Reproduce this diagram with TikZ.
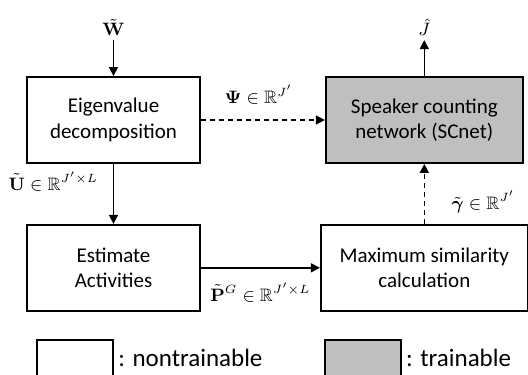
\documentclass[tikz,border=0pt]{standalone}
\usepackage{amsmath,amssymb}
\usepackage[no-math]{fontspec}
\setmainfont{Carlito}
\usetikzlibrary{positioning,arrows.meta}
\definecolor{lineC}{HTML}{000000}
\definecolor{trainC}{HTML}{BFBFBF}

\begin{document}
\begin{tikzpicture}[
  >={Triangle[length=4.5pt,width=4.5pt]},
  every node/.style={font=\fontsize{10.5}{12.6}\selectfont, text=lineC},
  procbox/.style={draw=lineC, line width=0.9pt, fill=#1,
                  minimum width=86.5pt, minimum height=43pt,
                  align=center, inner sep=2pt},
  procbox/.default=white,
  keybox/.style={draw=lineC, line width=0.9pt, fill=#1,
                 minimum width=38pt, minimum height=18pt, inner sep=0pt},
  keytext/.style={font=\fontsize{12.5}{15}\selectfont, inner sep=2pt},
  flow/.style={->, line width=0.75pt, lineC},
  dflow/.style={->, line width=0.75pt, lineC, dash pattern=on 2.5pt off 2pt},
  ioval/.style={inner sep=2pt, font=\fontsize{9.5}{11}\selectfont},
  edgelbl/.style={font=\fontsize{9}{11}\selectfont},
]

% ── Frame ──
\useasboundingbox (0,0) rectangle (264pt,-187pt);

% ── Processing blocks ──
\node[procbox] (eig) at (56.75pt,-60pt) {Eigenvalue\\decomposition};
\node[procbox=trainC, minimum width=98.5pt, right=62pt of eig] (scnet)
  {Speaker counting\\network (SCnet)};
\node[procbox, below=30pt of eig] (est) {Estimate\\Activities};
\node[procbox, minimum width=103.5pt, below=30pt of scnet] (msim)
  {Maximum similarity\\calculation};

% ── Input / output ──
\node[ioval, above=18pt of eig] (win) {$\tilde{\mathbf{W}}$};
\node[ioval, above=18pt of scnet] (jout) {$\hat{J}$};

% ── Connectors ──
\draw[flow] (win) -- (eig);
\draw[flow] (scnet) -- (jout);
\draw[dflow] (eig.east) -- node[edgelbl, above=4pt, xshift=-2pt]
  {$\mathbf{\Psi}\in\mathbb{R}^{J'}$} (scnet.west);
\draw[flow] (eig) -- node[edgelbl, pos=0.3, left=4pt]
  {$\tilde{\mathbf{U}}\in\mathbb{R}^{J'\times L}$} (est);
\draw[flow] (est.east) -- node[edgelbl, below=4pt]
  {$\tilde{\mathbf{P}}^{G}\in\mathbb{R}^{J'\times L}$} (msim.west);
\draw[dflow] (msim.north) -- node[edgelbl, right=10pt, yshift=-4pt]
  {$\tilde{\boldsymbol{\gamma}}\in\mathbb{R}^{J'}$} (scnet.south);

% ── Legend ──
\node[keybox=white, below right=13.5pt and 5pt of est.south west] (keyw) {};
\node[keytext, right=0pt of keyw] (keywt) {: nontrainable};
\node[keybox=trainC, below right=13.5pt and 2pt of msim.south west] (keyg) {};
\node[keytext, right=0pt of keyg] (keygt) {: trainable};

\end{tikzpicture}
\end{document}
